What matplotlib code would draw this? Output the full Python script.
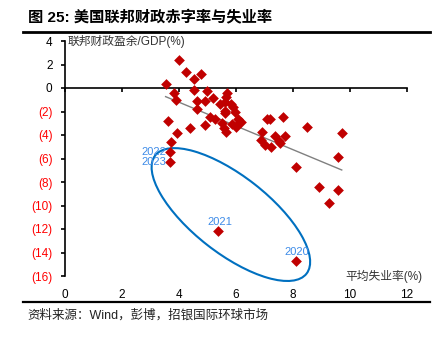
import numpy as np
import matplotlib
matplotlib.use("Agg")
import matplotlib.pyplot as plt
from matplotlib.patches import Ellipse
from matplotlib.lines import Line2D
from matplotlib.transforms import ScaledTranslation

plt.rcParams['font.family'] = ['Liberation Sans', 'Noto Sans CJK SC', 'DejaVu Sans']

# 平均失业率 (%) vs 联邦财政盈余/GDP (%)
unemp = [4.00, 4.25, 4.78, 4.53, 3.53, 3.82, 3.88, 4.54, 4.97, 5.67,
         5.65, 4.64, 4.90, 5.19, 5.43, 5.61, 5.81, 5.88, 5.62, 5.61,
         5.96, 4.64, 3.60, 5.10, 5.28, 4.39, 3.92, 4.90, 5.50, 5.57,
         5.65, 6.08, 6.18, 6.12, 6.01, 5.86, 3.71, 6.92, 7.08, 7.19,
         7.64, 8.48, 9.71, 7.37, 7.72, 6.87, 7.52, 7.54, 7.02, 7.22,
         9.59, 8.09, 8.92, 9.59, 9.27]
balance = [2.36, 1.33, 1.22, 0.77, 0.34, -0.42, -1.04, -0.19, -0.24, -0.40,
           -0.76, -1.10, -1.08, -0.88, -1.32, -1.18, -1.38, -1.59, -1.92, -2.12,
           -2.00, -1.80, -2.78, -2.50, -2.68, -3.43, -3.80, -3.14, -3.00, -3.43,
           -3.73, -2.62, -2.86, -3.00, -3.32, -3.10, -4.60, -3.73, -2.60, -2.60,
           -2.50, -3.29, -3.86, -4.07, -4.09, -4.43, -4.52, -4.70, -4.85, -5.00,
           -5.90, -6.70, -8.40, -8.68, -9.76]

years = ['2020', '2021', '2022', '2023']
year_unemp = [8.09, 5.38, 3.68, 3.68]
year_balance = [-14.72, -12.14, -5.47, -6.33]

# 趋势线 y = a + b*x
trend_a, trend_b = 2.83, -1.01
trend_x = [3.53, 9.71]

xticks = [0, 2, 4, 6, 8, 10, 12]
yticks = [4, 2, 0, -2, -4, -6, -8, -10, -12, -14, -16]
ylabels = ['4', '2', '0', '(2)', '(4)', '(6)', '(8)', '(10)', '(12)', '(14)', '(16)']

red = '#C00000'
blue = '#0070C0'
lblue = '#3D8BE8'

fig = plt.figure(figsize=(4.38, 3.40), dpi=100)
ax = fig.add_axes([65/438, 64/340, 342/438, 235/340])

ax.scatter(unemp, balance, marker='D', s=30, color=red, lw=0, zorder=3)
ax.scatter(year_unemp, year_balance, marker='D', s=30, color=red, lw=0, zorder=3)

tx = np.array(trend_x)
ax.plot(tx, trend_a + trend_b * tx, color='#808080', lw=1.0, zorder=2)

# 圈出 2020-2023
ell = Ellipse((0, 0), 1.92, 0.77, angle=-38, fill=False, ec=blue, lw=1.5, clip_on=False,
              transform=fig.dpi_scale_trans + ScaledTranslation(5.82, -10.77, ax.transData))
ax.add_patch(ell)

for yr, x, y in zip(years, year_unemp, year_balance):
    if yr in ('2022', '2023'):
        ax.text(x - 0.12, y, yr, color=lblue, fontsize=8, ha='right', va='center')
    else:
        ax.text(x + 0.05, y + 0.35, yr, color=lblue, fontsize=8, ha='center', va='bottom')

ax.set_xlim(0, 12)
ax.set_ylim(-16, 4)
for s in ['top', 'right']:
    ax.spines[s].set_visible(False)
ax.spines['bottom'].set_position(('data', 0))
ax.spines['bottom'].set_linewidth(1.2)
ax.spines['left'].set_linewidth(1.2)

ax.set_xticks(xticks)
ax.tick_params(axis='x', direction='out', length=3, width=1.2, labelbottom=False)
ax.set_yticks(yticks)
ax.set_yticklabels(ylabels, fontsize=8.5)
ax.tick_params(axis='y', direction='out', length=3, width=1.2, pad=6)
for lab, v in zip(ax.get_yticklabels(), yticks):
    lab.set_color('red' if v < 0 else 'black')

sec = ax.secondary_xaxis(0)
sec.set_xticks(xticks)
sec.set_xticklabels([str(t) for t in xticks], fontsize=8.5)
sec.tick_params(length=0, pad=9)
sec.spines['bottom'].set_visible(False)

ax.text(0.08, 4, '联邦财政盈余/GDP(%)', fontsize=8.5, color='#333333',
        ha='left', va='center', clip_on=False)
ax.text(12.56, -16.05, '平均失业率(%)', fontsize=8.5, color='#333333',
        ha='right', va='center', clip_on=False)

fig.text(28/438, 1 - 18/340, '图 25: 美国联邦财政赤字率与失业率', fontsize=11,
         fontweight='bold', ha='left', va='center')
fig.add_artist(Line2D([23/438, 430/438], [1 - 32/340, 1 - 32/340], color='black', lw=2.0))
fig.add_artist(Line2D([23/438, 430/438], [1 - 302/340, 1 - 302/340], color='black', lw=1.6))
fig.text(27/438, 1 - 315/340, '资料来源：Wind，彭博，招银国际环球市场', fontsize=9,
         color='#222222', ha='left', va='center')

fig.savefig('out.png', dpi=100)
